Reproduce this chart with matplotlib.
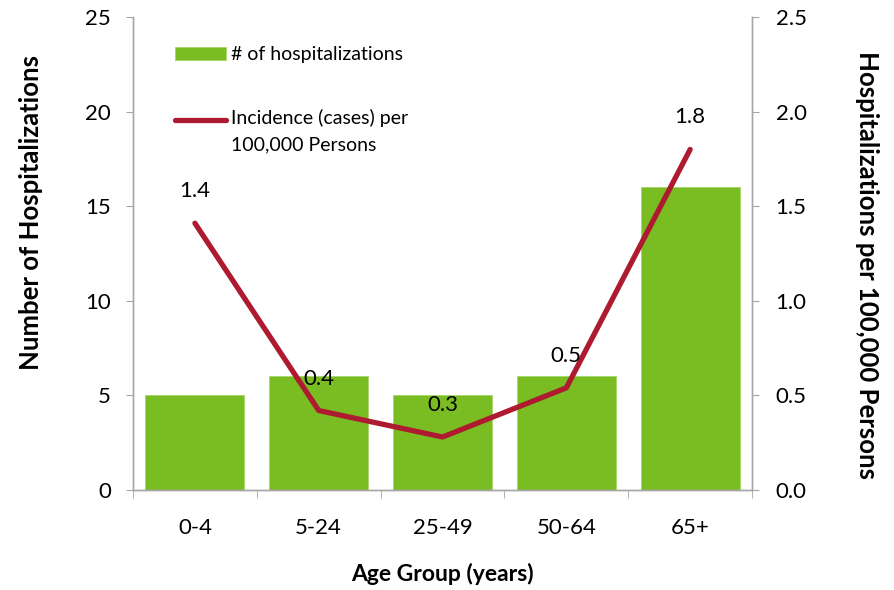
import matplotlib.pyplot as plt
import numpy as np
from matplotlib.legend_handler import HandlerLine2D

# Data
age_groups = ["0-4", "5-24", "25-49", "50-64", "65+"]
hospitalizations = [5, 6, 5, 6, 16]
incidence = [1.41, 0.42, 0.28, 0.54, 1.80]

bar_color = "#7ABD22"
line_color = "#AE1A2F"
spine_color = "#A6A6A6"

plt.rcParams["font.family"] = ["Lato", "DejaVu Sans"]


class FirstLineHandler(HandlerLine2D):
    """Put the legend line next to the first line of a two-line label."""

    def create_artists(self, legend, orig_handle, xdescent, ydescent,
                       width, height, fontsize, trans):
        artists = super().create_artists(legend, orig_handle, xdescent, ydescent,
                                         width, height, fontsize, trans)
        for a in artists:
            a.set_ydata(np.asarray(a.get_ydata()) + 8)
        return artists


fig = plt.figure(figsize=(8.94, 5.90), dpi=100)
ax = fig.add_axes([0.1488, 0.1695, 0.6924, 0.8017])
ax2 = ax.twinx()

x = np.arange(len(age_groups))

# Bars on the left axis
ax.bar(x, hospitalizations, width=0.8, color=bar_color,
       edgecolor="#A8D66A", linewidth=0.6, label="# of hospitalizations", zorder=2)
ax.set_ylim(0, 25)
ax.set_yticks(np.arange(0, 26, 5))
ax.set_xlim(-0.5, len(age_groups) - 0.5)

# Line on the right axis
ax2.plot(x, incidence, color=line_color, linewidth=3.8, solid_capstyle="round",
         label="Incidence (cases) per\n100,000 Persons", zorder=3)
ax2.set_ylim(0, 2.5)
ax2.set_yticks(np.arange(0, 2.51, 0.5))
ax2.set_yticklabels([f"{v:.1f}" for v in np.arange(0, 2.51, 0.5)])

for xi, v in zip(x, incidence):
    ax2.annotate(f"{v:.1f}", (xi, v), xytext=(0, 23), textcoords="offset points",
                 ha="center", va="center", fontsize=16)

# x axis: labels at centres, ticks at category boundaries
ax.set_xticks(x)
ax.set_xticklabels(age_groups)
ax.set_xticks(np.arange(-0.5, len(age_groups)), minor=True)
ax.tick_params(axis="x", which="major", length=0, pad=20, labelsize=16)
ax.tick_params(axis="x", which="minor", length=6, color=spine_color, direction="out")
ax.tick_params(axis="y", length=5, color=spine_color, pad=11, labelsize=16)
ax2.tick_params(axis="y", length=5, color=spine_color, pad=12, labelsize=16)

for a in (ax, ax2):
    a.spines["top"].set_visible(False)
    for s in ("left", "right", "bottom"):
        a.spines[s].set_color(spine_color)
        a.spines[s].set_linewidth(1.0)

ax.set_xlabel("Age Group (years)", fontsize=16.5, fontweight="bold", labelpad=18)
ax.set_ylabel("Number of Hospitalizations", fontsize=18.5, fontweight="bold", labelpad=30)
ax2.set_ylabel("Hospitalizations per 100,000 Persons", fontsize=18.5, fontweight="bold",
               rotation=-90, labelpad=52)
ax.yaxis.label.set_y(0.586)
ax2.yaxis.label.set_y(0.476)

# Legend
h1, l1 = ax.get_legend_handles_labels()
h2, l2 = ax2.get_legend_handles_labels()
leg = ax2.legend(h1 + h2, l1 + l2, loc="upper left", bbox_to_anchor=(0.04, 0.975),
                 frameon=False, fontsize=14, handlelength=2.6, labelspacing=2.35,
                 handletextpad=0.25, handler_map={h2[0]: FirstLineHandler()})
for t in leg.get_texts():
    t.set_linespacing(1.65)

fig.savefig("out.png", dpi=100)
